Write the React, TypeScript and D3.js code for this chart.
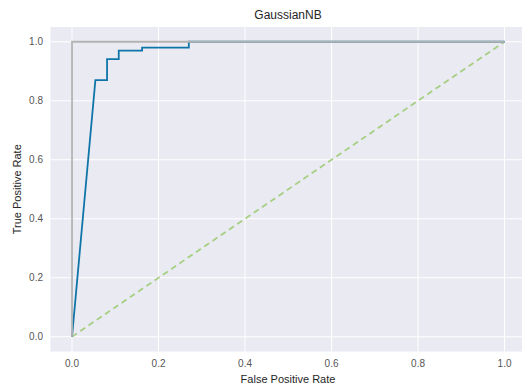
import React from "react";
import * as d3 from "d3";

const title = "GaussianNB";
const xLabel = "False Positive Rate";
const yLabel = "True Positive Rate";
const ticks = [0, 0.2, 0.4, 0.6, 0.8, 1.0];

// GaussianNB ROC curve
const fpr = [0, 0.054, 0.081, 0.081, 0.108, 0.108, 0.162, 0.162, 0.27, 0.27, 1.0];
const tpr = [0, 0.87, 0.87, 0.941, 0.941, 0.97, 0.97, 0.98, 0.98, 1.0, 1.0];

// perfect classifier
const perfectX = [0, 0, 1];
const perfectY = [0, 1, 1];

// random chance
const chanceX = [0, 1];
const chanceY = [0, 1];

const W = 522;
const H = 389;

export default function App() {
  const x = d3.scaleLinear().domain([-0.05, 1.05]).range([50.4, 526.2]);
  const y = d3.scaleLinear().domain([-0.05, 1.05]).range([351.5, 27]);

  const line = d3
    .line<[number, number]>()
    .x((d) => x(d[0]))
    .y((d) => y(d[1]));

  const zip = (a: number[], b: number[]) => a.map((v, i) => [v, b[i]] as [number, number]);

  const font = "'Liberation Sans', Arial, sans-serif";

  return (
    <svg
      width={W}
      height={H}
      style={{ position: "absolute", left: 0, top: 0, background: "#fff" }}
      fontFamily={font}
    >
      <rect
        x={x(-0.05)}
        y={y(1.05)}
        width={x(1.05) - x(-0.05)}
        height={y(-0.05) - y(1.05)}
        fill="#EAEAF2"
      />
      {ticks.map((t) => (
        <g key={"g" + t}>
          <line x1={x(t)} x2={x(t)} y1={y(1.05)} y2={y(-0.05)} stroke="#fff" strokeWidth={1} />
          <line x1={x(-0.05)} x2={x(1.05)} y1={y(t)} y2={y(t)} stroke="#fff" strokeWidth={1} />
        </g>
      ))}
      {ticks.map((t) => (
        <text
          key={"xt" + t}
          x={x(t)}
          y={367}
          textAnchor="middle"
          fontSize={10}
          fill="#555"
        >
          {t.toFixed(1)}
        </text>
      ))}
      {ticks.map((t) => (
        <text
          key={"yt" + t}
          x={43}
          y={y(t) + 3.5}
          textAnchor="end"
          fontSize={10}
          fill="#555"
        >
          {t.toFixed(1)}
        </text>
      ))}
      <path
        d={line(zip(chanceX, chanceY)) || ""}
        fill="none"
        stroke="#a6cf82"
        strokeWidth={1.8}
        strokeDasharray="6,4"
      />
      <path
        d={line(zip(fpr, tpr)) || ""}
        fill="none"
        stroke="#0f75a8"
        strokeWidth={1.8}
      />
      <path
        d={line(zip(perfectX, perfectY)) || ""}
        fill="none"
        stroke="#b3b3b3"
        strokeWidth={1.8}
      />
      <text x={288} y={19} textAnchor="middle" fontSize={12} fill="#262626">
        {title}
      </text>
      <text x={288} y={383} textAnchor="middle" fontSize={11} fill="#262626">
        {xLabel}
      </text>
      <text
        transform={`translate(21,${(y(1.05) + y(-0.05)) / 2}) rotate(-90)`}
        textAnchor="middle"
        fontSize={11}
        fill="#262626"
      >
        {yLabel}
      </text>
    </svg>
  );
}
